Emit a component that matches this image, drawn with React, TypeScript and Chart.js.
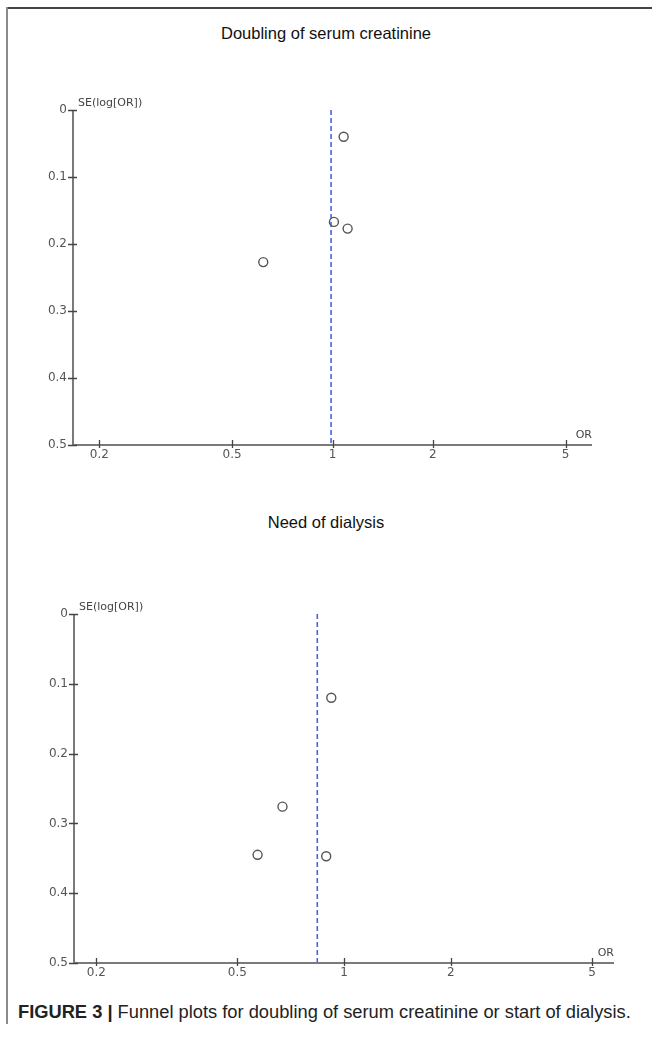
import React, { useEffect, useRef } from "react";
import { Chart, registerables } from "chart.js";

Chart.register(...registerables);

// ---- Data ----
const TOP_TITLE = "Doubling of serum creatinine";
const TOP_OR = [1.08, 1.01, 1.11, 0.62];
const TOP_SE = [0.04, 0.167, 0.177, 0.227];
const TOP_POOLED_OR = 0.99;

const BOTTOM_TITLE = "Need of dialysis";
const BOTTOM_OR = [0.92, 0.67, 0.57, 0.89];
const BOTTOM_SE = [0.12, 0.276, 0.345, 0.347];
const BOTTOM_POOLED_OR = 0.84;

const X_TICKS = [0.2, 0.5, 1, 2, 5];
const Y_TICKS = [0, 0.1, 0.2, 0.3, 0.4, 0.5];
const X_LABEL = "OR";
const Y_LABEL = "SE(log[OR])";
const CAPTION_BOLD = "FIGURE 3 |";
const CAPTION_TEXT = " Funnel plots for doubling of serum creatinine or start of dialysis.";

type Geo = {
  canvasTop: number;
  canvasHeight: number;
  left: number;
  right: number;
  top: number;
  bottom: number;
  xMin: number;
  xMax: number;
};

const TICK_FONT = { family: "'DejaVu Sans', Verdana, sans-serif", size: 12 };

const axesPlugin = {
  id: "funnelAxes",
  afterDraw(chart: any) {
    const ctx = chart.ctx;
    const xs = chart.scales.x;
    const ys = chart.scales.y;
    const ax = chart.chartArea.left;
    const ay = chart.chartArea.bottom;
    const yTop = ys.getPixelForValue(0);
    const xRight = chart.chartArea.right;
    ctx.save();
    // axis lines
    ctx.strokeStyle = "#7a7a7a";
    ctx.lineWidth = 2;
    ctx.beginPath();
    ctx.moveTo(ax, yTop);
    ctx.lineTo(ax, ay);
    ctx.moveTo(ax, ay);
    ctx.lineTo(xRight, ay);
    ctx.stroke();
    // tick marks
    ctx.strokeStyle = "#444";
    ctx.lineWidth = 1.3;
    ctx.beginPath();
    for (const v of Y_TICKS) {
      const py = Math.round(ys.getPixelForValue(v)) + 0.5;
      ctx.moveTo(ax - 5, py);
      ctx.lineTo(ax + 4, py);
    }
    for (const v of X_TICKS) {
      const px = Math.round(xs.getPixelForValue(v)) + 0.5;
      ctx.moveTo(px, ay - 5);
      ctx.lineTo(px, ay + 3);
    }
    ctx.stroke();
    // axis titles
    ctx.fillStyle = "#444";
    ctx.font = "11px 'DejaVu Sans', Verdana, sans-serif";
    ctx.textAlign = "left";
    ctx.textBaseline = "alphabetic";
    ctx.fillText(Y_LABEL, ax + 5, yTop - 4);
    ctx.textAlign = "right";
    ctx.fillText(X_LABEL, xRight, ay - 7);
    ctx.restore();
  },
};

function Funnel({ or, se, pooled, geo }: { or: number[]; se: number[]; pooled: number; geo: Geo }) {
  const ref = useRef<HTMLCanvasElement | null>(null);
  useEffect(() => {
    if (!ref.current) return;
    const points = or.map((v, i) => ({ x: v, y: se[i] }));
    const chart = new Chart(ref.current, {
      type: "scatter",
      data: {
        datasets: [
          {
            data: points,
            pointRadius: 4.5,
            pointHoverRadius: 4.5,
            pointBorderWidth: 1.4,
            pointBorderColor: "#555",
            pointBackgroundColor: "rgba(0,0,0,0)",
            order: 1,
          },
          {
            data: [
              { x: pooled, y: Y_TICKS[0] },
              { x: pooled, y: Y_TICKS[Y_TICKS.length - 1] },
            ],
            showLine: true,
            borderColor: "#4a63ea",
            borderWidth: 1.6,
            borderDash: [5, 3],
            pointRadius: 0,
            order: 2,
          },
        ],
      },
      options: {
        animation: false,
        responsive: false,
        maintainAspectRatio: false,
        events: [],
        clip: false as any,
        layout: {
          padding: { top: geo.top, right: 652 - geo.right, left: 0, bottom: 0 },
        },
        plugins: { legend: { display: false }, tooltip: { enabled: false }, title: { display: false } },
        scales: {
          x: {
            type: "logarithmic",
            min: geo.xMin,
            max: geo.xMax,
            grid: { display: false, drawTicks: false },
            border: { display: false },
            afterBuildTicks: (s: any) => {
              s.ticks = X_TICKS.map((v) => ({ value: v }));
            },
            afterFit: (s: any) => {
              s.height = geo.canvasHeight - geo.bottom;
            },
            ticks: {
              autoSkip: false,
              maxRotation: 0,
              padding: 3,
              color: "#555",
              font: TICK_FONT,
              callback: (v: any) => String(v),
            },
          },
          y: {
            type: "linear",
            reverse: true,
            min: Y_TICKS[0],
            max: Y_TICKS[Y_TICKS.length - 1],
            grid: { display: false, drawTicks: false },
            border: { display: false },
            afterBuildTicks: (s: any) => {
              s.ticks = Y_TICKS.map((v) => ({ value: v }));
            },
            afterFit: (s: any) => {
              s.width = geo.left;
            },
            ticks: {
              autoSkip: false,
              padding: 6,
              color: "#555",
              font: TICK_FONT,
              callback: (v: any) => (Number(v) === 0 ? "0" : Number(v).toFixed(1)),
            },
          },
        },
      },
      plugins: [axesPlugin],
    } as any);
    return () => chart.destroy();
  }, [or, se, pooled, geo]);
  return (
    <canvas
      ref={ref}
      width={652}
      height={geo.canvasHeight}
      style={{ position: "absolute", left: 0, top: geo.canvasTop, width: 652, height: geo.canvasHeight }}
    />
  );
}

const TOP_GEO: Geo = {
  canvasTop: 60,
  canvasHeight: 420,
  left: 73,
  right: 592,
  top: 50,
  bottom: 385,
  xMin: 1 / 6,
  xMax: 6,
};

const BOTTOM_GEO: Geo = {
  canvasTop: 560,
  canvasHeight: 440,
  left: 74,
  right: 614,
  top: 54,
  bottom: 403,
  xMin: 0.173,
  xMax: 5.77,
};

const titleStyle: React.CSSProperties = {
  position: "absolute",
  left: 0,
  width: 652,
  textAlign: "center",
  fontFamily: "'Liberation Sans', Arial, sans-serif",
  fontSize: 16.5,
  color: "#111",
  lineHeight: "20px",
};

export default function App() {
  return (
    <div
      style={{
        position: "absolute",
        left: 0,
        top: 0,
        width: 652,
        height: 1037,
        background: "#fff",
        overflow: "hidden",
      }}
    >
      <div style={{ position: "absolute", left: 7, top: 7, width: 645, height: 2, background: "#444" }} />
      <div style={{ position: "absolute", left: 6, top: 7, width: 2, height: 1017, background: "#8a8a8a" }} />
      <div style={{ ...titleStyle, top: 23 }}>{TOP_TITLE}</div>
      <div style={{ ...titleStyle, top: 512 }}>{BOTTOM_TITLE}</div>
      <Funnel or={TOP_OR} se={TOP_SE} pooled={TOP_POOLED_OR} geo={TOP_GEO} />
      <Funnel or={BOTTOM_OR} se={BOTTOM_SE} pooled={BOTTOM_POOLED_OR} geo={BOTTOM_GEO} />
      <div
        style={{
          position: "absolute",
          left: 18,
          top: 1001,
          fontFamily: "'Liberation Sans', Arial, sans-serif",
          fontSize: 18.3,
          color: "#222",
          whiteSpace: "nowrap",
          lineHeight: "22px",
        }}
      >
        <b>{CAPTION_BOLD}</b>
        {CAPTION_TEXT}
      </div>
    </div>
  );
}
